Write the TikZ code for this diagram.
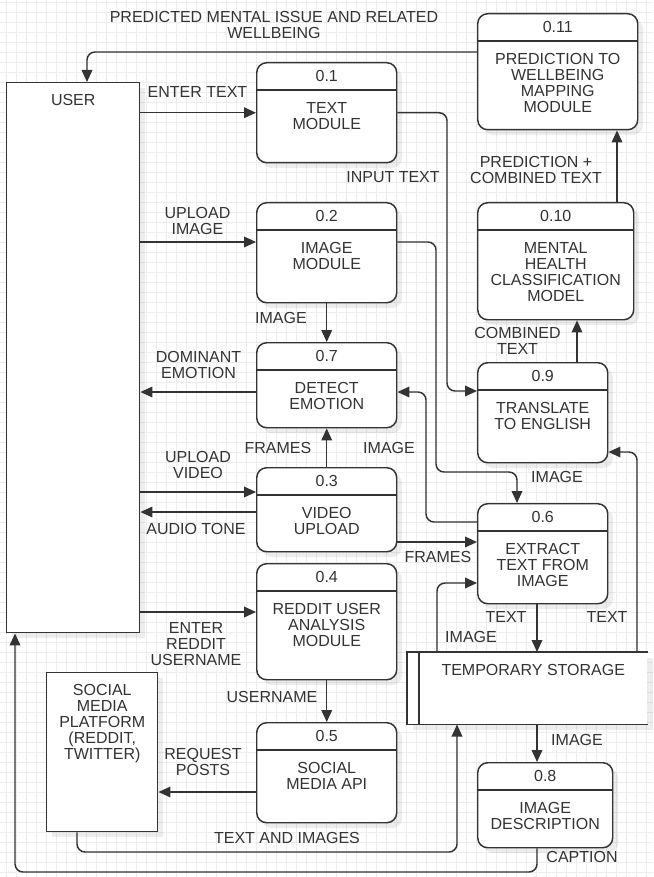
\documentclass[tikz,border=0pt]{standalone}
\usepackage{fontspec}
\setmainfont{Liberation Sans}
\usepackage{tikz}
\usetikzlibrary{arrows.meta, shadows}

\definecolor{ink}{HTML}{333333}
\definecolor{gridgray}{HTML}{EDEDED}

\def \pxu {0.75pt}

% process box: name, left, top, width, height, number, label
\newcommand{\procbox}[7]{%
	\node[proc, minimum width=#4*\pxu, minimum height=#5*\pxu, anchor=north west] (#1) at (#2,#3) {};
	\draw[divide] ([yshift=-28*\pxu]#1.north west) -- ([yshift=-28*\pxu]#1.north east);
	\node[txt] (#1num) at ([yshift=-14*\pxu]#1.north) {#6};
	\node[txt, anchor=north] (#1lbl) at ([yshift=-40*\pxu]#1.north) {#7};
}

\begin{document}
\begin{tikzpicture}[x=0.75pt, y=-0.75pt,
	txt/.style={inner sep=0pt, align=center, text=ink, font=\fontsize{12pt}{12pt}\selectfont},
	proc/.style={draw=ink, line width=1.1pt, fill=white, rounded corners=7.5pt,
		drop shadow={shadow xshift=4pt, shadow yshift=-4pt, fill=black, opacity=0.07}},
	entity/.style={draw=ink, line width=1.1pt, fill=white,
		drop shadow={shadow xshift=4pt, shadow yshift=-4pt, fill=black, opacity=0.07}},
	store/.style={fill=white,
		drop shadow={shadow xshift=4pt, shadow yshift=-4pt, fill=black, opacity=0.07}},
	divide/.style={draw=ink, line width=1.1pt},
	flow/.style={draw=ink, line width=1.1pt, rounded corners=6pt, -{Triangle[length=9pt, width=8pt]}},
	gridline/.style={draw=gridgray, line width=0.6pt}]

	\useasboundingbox (0,0) rectangle (653,877);
	\fill[white] (0,0) rectangle (653,877);
	\foreach \gx in {6,16,...,646} \draw[gridline] (\gx,0) -- (\gx,877);
	\foreach \gy in {2,12,...,872} \draw[gridline] (0,\gy) -- (653,\gy);

	% external entities
	\node[entity, minimum width=133*\pxu, minimum height=550*\pxu, anchor=north west] (user) at (6,82) {};
	\node[txt, anchor=north] (userlbl) at ([yshift=-12*\pxu]user.north) {USER};
	\node[entity, minimum width=111*\pxu, minimum height=159*\pxu, anchor=north west] (platform) at (46,672) {};
	\node[txt, anchor=north] (platformlbl) at ([yshift=-12*\pxu]platform.north)
		{SOCIAL\\MEDIA\\PLATFORM\\(REDDIT,\\TWITTER)};

	% data store
	\node[store, minimum width=240*\pxu, minimum height=72*\pxu, anchor=north west] (storage) at (407,652) {};
	\draw[divide] (storage.north east) -- (storage.north west) -- (storage.south west) -- (storage.south east);
	\draw[divide] ([xshift=12*\pxu]storage.north west) -- ([xshift=12*\pxu]storage.south west);
	\node[txt, anchor=north] (storagelbl) at ([xshift=6*\pxu, yshift=-12.5*\pxu]storage.north)
		{TEMPORARY STORAGE};

	% processes
	\procbox{textmod}{256}{62}{140}{100}{0.1}{TEXT\\MODULE}
	\procbox{imagemod}{256}{202}{140}{100}{0.2}{IMAGE\\MODULE}
	\procbox{emotion}{256}{342}{140}{85}{0.7}{DETECT\\EMOTION}
	\procbox{video}{256}{467}{140}{84}{0.3}{VIDEO\\UPLOAD}
	\procbox{reddit}{256}{563}{140}{116}{0.4}{REDDIT USER\\ANALYSIS\\MODULE}
	\procbox{api}{256}{722}{140}{100}{0.5}{SOCIAL\\MEDIA API}
	\procbox{mapping}{477}{13}{160}{116}{0.11}{PREDICTION TO\\WELLBEING\\MAPPING\\MODULE}
	\procbox{classify}{477}{202}{156}{117}{0.10}{MENTAL\\HEALTH\\CLASSIFICATION\\MODEL}
	\procbox{translate}{477}{362}{130}{100}{0.9}{TRANSLATE\\TO ENGLISH}
	\procbox{extract}{477}{503}{130}{100}{0.6}{EXTRACT\\TEXT FROM\\IMAGE}
	\procbox{imgdesc}{477}{762}{135}{85}{0.8}{IMAGE\\DESCRIPTION}

	% flow labels
	\node[txt] (predlbl) at (274,25) {PREDICTED MENTAL ISSUE AND RELATED\\WELLBEING};
	\node[txt] (entertxt) at (197.5,92) {ENTER TEXT};
	\node[txt] (inputtxt) at (393,177) {INPUT TEXT};
	\node[txt] (uploadimg) at (197.5,221) {UPLOAD\\IMAGE};
	\node[txt] (imglbla) at (281,318) {IMAGE};
	\node[txt] (domlbl) at (198.5,365) {DOMINANT\\EMOTION};
	\node[txt] (frameslbla) at (278,448) {FRAMES};
	\node[txt] (imglblb) at (389,448) {IMAGE};
	\node[txt] (uploadvid) at (198,465) {UPLOAD\\VIDEO};
	\node[txt] (audiolbl) at (196,529) {AUDIO TONE};
	\node[txt] (frameslblb) at (438,557) {FRAMES};
	\node[txt] (redditlbl) at (196,644) {ENTER\\REDDIT\\USERNAME};
	\node[txt] (namelbl) at (272,697) {USERNAME};
	\node[txt] (requestlbl) at (203,762) {REQUEST\\POSTS};
	\node[txt] (postslbl) at (287,838) {TEXT AND IMAGES};
	\node[txt] (predcomb) at (536,170) {PREDICTION +\\COMBINED TEXT};
	\node[txt] (comblbl) at (517.5,341) {COMBINED\\TEXT};
	\node[txt] (imglblc) at (557,477) {IMAGE};
	\node[txt] (textlbla) at (506,617) {TEXT};
	\node[txt] (textlblb) at (607,617) {TEXT};
	\node[txt] (imglbld) at (471,637) {IMAGE};
	\node[txt] (imglble) at (577,740) {IMAGE};
	\node[txt] (captionlbl) at (582,857) {CAPTION};

	% flows
	\draw[flow] (mapping.west |- 0,52) -| (user.north -| 87,0);
	\draw[flow] (user.east |- textmod.west) -- (textmod.west);
	\draw[flow] (textmod.east) -| (447,391) -- (translate.west |- 0,391);
	\draw[flow] (user.east |- 0,242) -- (imagemod.west |- 0,242);
	\draw[flow] (imagemod.east |- 0,242) -| (436,472) -| (extract.north -| 517,0);
	\draw[flow] (imagemod.south) -- (emotion.north);
	\draw[flow] (emotion.west |- 0,392) -- (user.east |- 0,392);
	\draw[flow] (extract.west |- 0,522) -| (426,392) -- (emotion.east |- 0,392);
	\draw[flow] (video.north) -- (emotion.south);
	\draw[flow] (user.east |- 0,492) -- (video.west |- 0,492);
	\draw[flow] (video.west |- 0,512) -- (user.east |- 0,512);
	\draw[flow] (video.east |- 0,542) -- (extract.west |- 0,542);
	\draw[flow] (user.east |- 0,612) -- (reddit.west |- 0,612);
	\draw[flow] (reddit.south) -- (api.north);
	\draw[flow] (api.west |- 0,792) -- (platform.east |- 0,792);
	\draw[flow] (platform.south -| 77,0) |- (457,852) -- (storage.south -| 457,0);
	\draw[flow] (storage.south -| 537,0) -- (imgdesc.north -| 537,0);
	\draw[flow] (imgdesc.south -| 537,0) |- (15,872) -- (user.south -| 15,0);
	\draw[flow] (extract.south -| 537,0) -- (storage.north -| 537,0);
	\draw[flow] (storage.north -| 437,0) |- (extract.west |- 0,583);
	\draw[flow] (storage.north -| 637,0) |- (translate.east |- 0,452);
	\draw[flow] (translate.north -| 577,0) -- (classify.south -| 577,0);
	\draw[flow] (classify.north -| 617,0) -- (mapping.south -| 617,0);
\end{tikzpicture}
\end{document}
